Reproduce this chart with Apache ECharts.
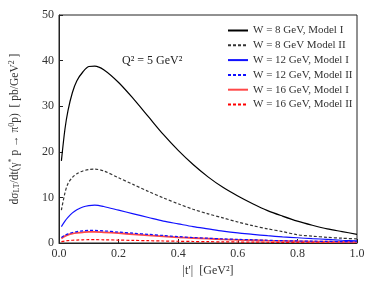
<!DOCTYPE html>
<html><head><meta charset="utf-8">
<script src="https://cdn.jsdelivr.net/npm/echarts@6/dist/echarts.min.js"></script>
<style>html,body{margin:0;padding:0;background:#fff}#c{width:376px;height:282px}</style>
</head><body><div id="c"></div>
<script>
const tVals = [0.008,0.02,0.03,0.045,0.06,0.08,0.1,0.12,0.15,0.2,0.25,0.3,0.35,0.4,0.45,0.5,0.55,0.6,0.65,0.7,0.75,0.8,0.85,0.9,0.95,1.0];
const w8ModelI  = [18,25,29,33,35.6,37.5,38.7,38.8,38.0,35.2,31.6,27.7,23.8,20.3,17.2,14.5,12.2,10.3,8.6,7.1,5.9,4.8,3.9,3.1,2.5,1.9];
const w8ModelII = [7.2,11,13,14.4,15.2,15.8,16.1,16.2,15.8,14.3,12.8,11.3,9.9,8.6,7.4,6.4,5.5,4.6,3.8,3.1,2.5,1.8,1.5,1.25,1.05,0.9];
const w12ModelI = [3.6,4.8,5.6,6.6,7.3,7.9,8.2,8.3,8.0,7.2,6.4,5.6,4.8,4.2,3.6,3.1,2.6,2.2,1.9,1.6,1.35,1.15,0.95,0.8,0.6,0.45];
const w12ModelII= [1.2,1.7,2.0,2.3,2.5,2.65,2.75,2.75,2.65,2.4,2.15,1.9,1.65,1.4,1.2,1.05,0.9,0.8,0.7,0.6,0.5,0.45,0.4,0.35,0.3,0.27];
const w16ModelI = [1.0,1.5,1.8,2.05,2.2,2.35,2.45,2.45,2.35,2.15,1.9,1.65,1.45,1.25,1.1,0.95,0.8,0.7,0.6,0.5,0.45,0.38,0.32,0.28,0.24,0.2];
const w16ModelII= [0.3,0.45,0.52,0.6,0.65,0.7,0.72,0.72,0.7,0.64,0.57,0.5,0.44,0.38,0.33,0.29,0.25,0.22,0.19,0.16,0.14,0.12,0.1,0.09,0.08,0.07];
const seriesNames = ['W = 8 GeV, Model I','W = 8 GeV Model II','W = 12 GeV, Model I','W = 12 GeV, Model II','W = 16 GeV, Model I','W = 16 GeV, Model II'];
const xTicks = [0,0.2,0.4,0.6,0.8,1.0];
const yTicks = [0,10,20,30,40,50];

const FONT = 'Liberation Serif';
const styles = [
  {color:'#000', type:'solid', width:1.2},
  {color:'#333', type:[3,2], width:1.2},
  {color:'#1010ff', type:'solid', width:1.2},
  {color:'#1010ff', type:[3,2], width:1.2},
  {color:'#ff4848', type:'solid', width:1.8},
  {color:'#ff0000', type:[3,2], width:1.2}
];
const datas = [w8ModelI,w8ModelII,w12ModelI,w12ModelII,w16ModelI,w16ModelII];
const series = datas.map((d,i)=>({
  name: seriesNames[i], type:'line', symbol:'none', showSymbol:false, smooth:0.3,
  data: tVals.map((t,j)=>[t,d[j]]),
  lineStyle:{color:styles[i].color,type:styles[i].type,width:styles[i].width},
  itemStyle:{color:styles[i].color},
  z: 10-i
}));

const chart = echarts.init(document.getElementById('c'), null, {renderer:'canvas'});
chart.setOption({
  animation:false,
  textStyle:{fontFamily:FONT},
  grid:{left:57,right:19,top:15,bottom:35,show:true,borderColor:'#222',borderWidth:1},
  title:{text:'Q² = 5 GeV²',left:117,top:50,textStyle:{fontFamily:FONT,fontSize:12,fontWeight:'normal',color:'#222'}},
  legend:{orient:'vertical',left:222,top:20,itemWidth:20,itemHeight:10,itemGap:3.8,
    itemStyle:{opacity:0},
    textStyle:{fontFamily:FONT,fontSize:11,color:'#333',padding:[0,0,0,0]},
    data:seriesNames},
  xAxis:{type:'value',min:0,max:1,interval:0.2,
    name:'|t\u2032|  [GeV²]',nameLocation:'middle',nameGap:22,
    nameTextStyle:{fontFamily:FONT,fontSize:12,color:'#333'},
    axisLine:{show:true,lineStyle:{color:'#222'}},
    axisTick:{show:true,inside:true,length:4,lineStyle:{color:'#222'}},
    axisLabel:{fontFamily:FONT,fontSize:12,color:'#333',margin:5,formatter:v=>v.toFixed(1)},
    splitLine:{show:false}},
  yAxis:{type:'value',min:0,max:50,interval:10,
    name:'dσ{sub|LT}/dt(γ{sup|*} p → π{sup|0}p)  [ pb/GeV{sup|2} ]',nameLocation:'middle',nameGap:38,nameRotate:90,
    nameTextStyle:{fontFamily:FONT,fontSize:11.5,color:'#333',
      rich:{sub:{fontSize:8,fontFamily:FONT,color:'#333',padding:[5,0,0,0]},sup:{fontSize:8,fontFamily:FONT,color:'#333',padding:[0,0,5,0]}}},
    axisLine:{show:true,lineStyle:{color:'#222'}},
    axisTick:{show:true,inside:true,length:4,lineStyle:{color:'#222'}},
    axisLabel:{fontFamily:FONT,fontSize:12,color:'#333',margin:5},
    splitLine:{show:false}},
  series: series
});
</script></body></html>
